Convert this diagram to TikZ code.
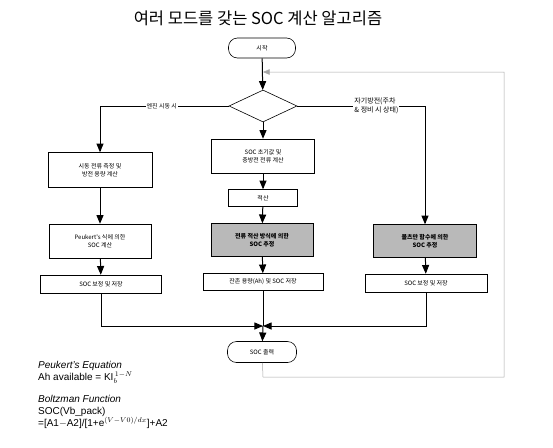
\documentclass[tikz,border=0pt]{standalone}
\usepackage{fontspec}
\setmainfont{Liberation Sans}
\newfontfamily\kr{Noto Sans CJK KR}
\usetikzlibrary{arrows,shapes.geometric}

\begin{document}
\begin{tikzpicture}[x=1pt,y=-1pt,
  box/.style={draw,line width=0.6pt,inner sep=1pt,align=center,font=\kr\fontsize{6}{8}\selectfont},
  graybox/.style={box,fill=gray!55,font=\kr\bfseries\fontsize{6}{8}\selectfont},
  term/.style={box,rounded corners=9pt},
  arr/.style={-triangle 45,line width=1pt},
  link/.style={line width=1pt},
  fbline/.style={-triangle 45,line width=0.5pt,draw=gray!70}]

% cornice
\useasboundingbox (0,0) rectangle (553,447);

% titolo
\node (title) at (258,18) {\kr\fontsize{16.5}{18}\selectfont 여러 모드를 갖는 SOC 계산 알고리즘};

% inizio e scelta
\node[term,minimum width=67pt,minimum height=20pt] (start) at (262,48) {시작};
\node[draw,line width=0.6pt,diamond,inner sep=0pt,minimum width=68pt,minimum height=32pt] (dia) at (263,106) {};

% colonna sinistra
\node[box,minimum width=104pt,minimum height=35pt] (lbox1) at (100,170) {시동 전류 측정 및\\방전 용량 계산};
\node[box,minimum width=102pt,minimum height=34pt] (lbox2) at (100,241) {Peukert's 식에 의한\\SOC 계산};
\node[box,minimum width=121pt,minimum height=18pt] (lbox3) at (101,284) {SOC 보정 및 저장};

% colonna centrale
\node[box,minimum width=103pt,minimum height=34pt] (mbox1) at (263,156) {SOC 초기값 및\\충방전 전류 계산};
\node[box,minimum width=69pt,minimum height=17pt] (mbox2) at (263,198) {적산};
\node[graybox,minimum width=102pt,minimum height=33pt] (mgray) at (262,240) {전류 적산 방식에 의한\\SOC 추정};
\node[box,minimum width=120pt,minimum height=17pt] (mbox4) at (263,282) {잔존 용량(Ah) 및 SOC 저장};

% colonna destra
\node[graybox,minimum width=103pt,minimum height=33pt] (rgray) at (425,241) {볼츠만 함수에 의한\\SOC 추정};
\node[box,minimum width=122pt,minimum height=18pt] (rbox) at (426,283) {SOC 보정 및 저장};

% uscita
\node[term,minimum width=69pt,minimum height=21pt] (out) at (262,352) {SOC 출력};

% punti
\coordinate (join) at (263,326);
\coordinate (fbA) at (263,377);
\coordinate (fbB) at (504,72);
\coordinate (fbC) at (263,72);

% frecce
\draw[arr] (start) -- (dia);
\draw[arr] (dia.west) -| node[pos=0.26,fill=white,inner sep=1pt,font=\kr\fontsize{6}{8}\selectfont] (llab) {엔진 시동 시} (lbox1.north);
\draw[arr] (dia.east) -| node[pos=0.31,fill=white,inner sep=1pt,align=left,font=\kr\fontsize{7}{9}\selectfont] (rlab) {자기방전(주차\\\& 정비 시 상태)} (rgray.north);
\draw[arr] (dia) -- (mbox1);
\draw[arr] (mbox1) -- (mbox2);
\draw[arr] (mbox2) -- (mgray);
\draw[arr] (mgray) -- (mbox4);
\draw[arr] (lbox1) -- (lbox2);
\draw[arr] (lbox2) -- (lbox3);
\draw[arr] (rgray) -- (rbox);

% unione
\draw[link] (mbox4) -- (join);
\draw[arr] (lbox3) |- (join);
\draw[arr] (rbox) |- (join);
\draw[arr] (join) -- (out);

% ritorno
\draw[fbline] (out) -- (fbA) -| (fbB) -- (fbC);

% formule
\node[anchor=north west,align=left,inner sep=0pt,font=\fontsize{10}{12}\selectfont] (peukert) at (38,361)
  {\textit{Peukert's Equation}\\Ah available = KI$_b^{\,1-N}$};
\node[anchor=north west,align=left,inner sep=0pt,font=\fontsize{10}{12}\selectfont] (boltz) at (38,395)
  {\textit{Boltzman Function}\\SOC(Vb\_pack)\\=[A1$-$A2]/[1+e$^{(V-V0)/dx}$]+A2};

\end{tikzpicture}
\end{document}
